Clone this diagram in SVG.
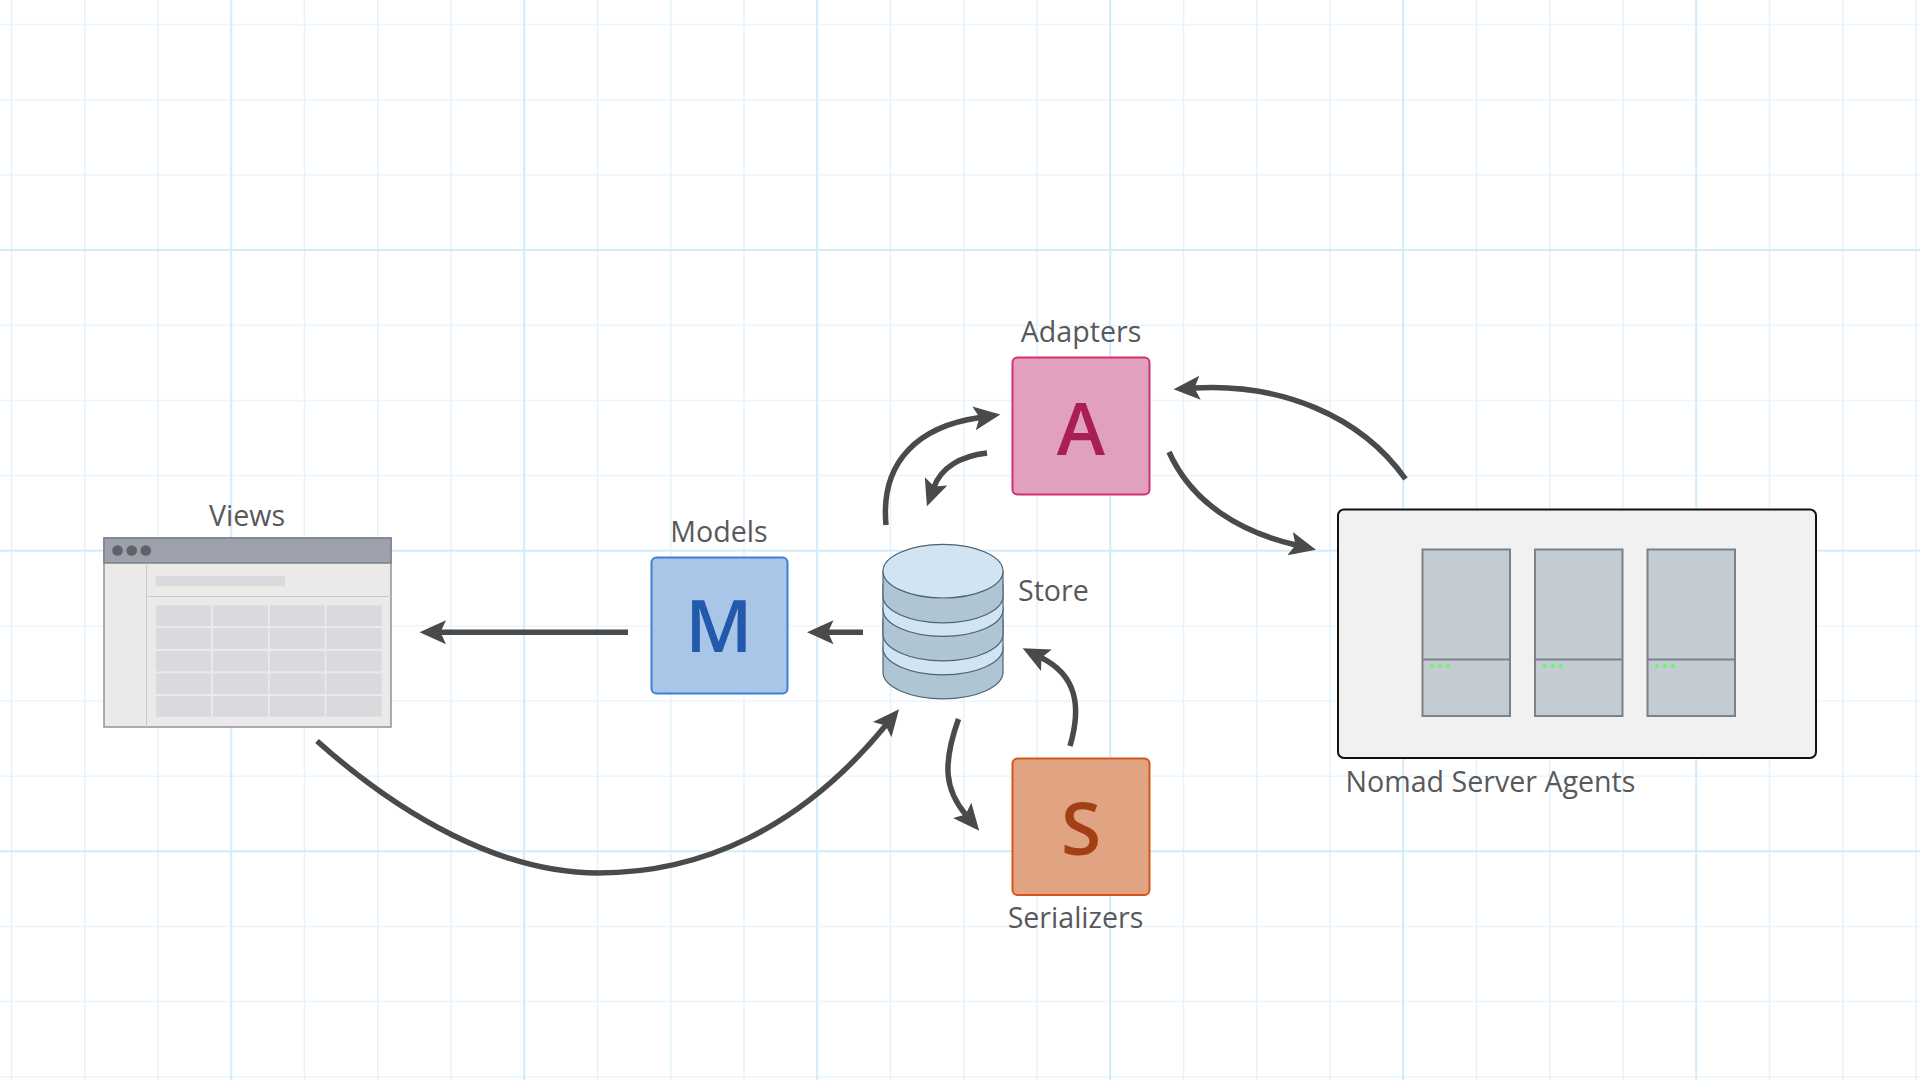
<svg xmlns="http://www.w3.org/2000/svg" width="1920" height="1080" viewBox="0 0 1920 1080">
<defs>
<style>
.gv{stroke:#E3F2FD;stroke-width:1.5;fill:none}
.gh{stroke:#EAF6FE;stroke-width:1.5;fill:none}
.gm{stroke:#D3ECFB;stroke-width:2;fill:none}
.lbl{font-family:"Open Sans","Noto Sans",sans-serif;font-size:28.600px;fill:#58595b;font-weight:500}
.ltr{font-family:"Open Sans","Noto Sans",sans-serif;font-size:73px;font-weight:600;text-anchor:middle}
.tile{stroke-width:2}
.c{fill:none;stroke:#4a4a4a;stroke-width:5.500}
.cell{fill:#D8DADD}
.srv{fill:#C4CCD3;stroke:#7B8288;stroke-width:2}
.led{fill:#5CFF5C}
.dk{fill:#AFC5D3;stroke:#4A6478;stroke-width:1.200}
.lt{fill:#D2E3F1;stroke:#4A6478;stroke-width:1.200}
</style>
<marker id="h" markerUnits="userSpaceOnUse" markerWidth="30" markerHeight="26" viewBox="0 -13 30 26" refX="6" refY="0" orient="auto"><path d="M26.500 0L0-12 5.500 0 0 12z" fill="#4a4a4a"/></marker>
</defs>
<rect width="1920" height="1080" fill="#fff"/>
<g id="grid">
<path class="gh" d="M0 24.600H1920M0 99.800H1920M0 175H1920M0 325.300H1920M0 400.500H1920M0 475.600H1920M0 625.900H1920M0 701H1920M0 776.200H1920M0 926.500H1920M0 1001.600H1920M0 1076.800H1920"/>
<path class="gv" d="M11.500 0V1080M84.700 0V1080M158 0V1080M304.500 0V1080M377.700 0V1080M451 0V1080M597.500 0V1080M670.700 0V1080M744 0V1080M890.500 0V1080M963.700 0V1080M1037 0V1080M1183.500 0V1080M1256.700 0V1080M1330 0V1080M1476.500 0V1080M1549.700 0V1080M1623 0V1080M1769.500 0V1080M1842.700 0V1080M1916 0V1080"/>
<path class="gm" d="M0 250.100H1920M0 550.700H1920M0 851.300H1920M231.200 0V1080M524.200 0V1080M817.200 0V1080M1110.200 0V1080M1403.200 0V1080M1696.200 0V1080"/>
</g>
<g id="connectors">
<path class="c" marker-end="url(#h)" d="M628 632.300H440"/>
<path class="c" marker-end="url(#h)" d="M863 632.300H827.500"/>
<path class="c" marker-end="url(#h)" d="M886 525C880 460 920 426 980 417.500"/>
<path class="c" marker-end="url(#h)" d="M987 453C960 456 941 468 934 487"/>
<path class="c" marker-end="url(#h)" d="M1405.500 479C1360 415 1280 383 1194 388"/>
<path class="c" marker-end="url(#h)" d="M1169 452C1192 503 1240 532 1296 545"/>
<path class="c" marker-end="url(#h)" d="M317 741C400 815 500 873 598 873C700 873 800 830 886 725"/>
<path class="c" marker-end="url(#h)" d="M958.500 719C942 765 945 790 966 815"/>
<path class="c" marker-end="url(#h)" d="M1070 746C1082 705 1076 675 1041 657.500"/>
</g>
<g id="views">
<text class="lbl" x="247" y="525.500" text-anchor="middle">Views</text>
<rect x="104" y="538" width="287" height="189" fill="#EBEAE8" stroke="#8F93A0" stroke-width="1.500"/>
<rect x="104" y="538" width="287" height="25" fill="#9DA1AC" stroke="#7C808B" stroke-width="1.500"/>
<circle cx="117.500" cy="550.500" r="5.300" fill="#5F6269"/><circle cx="131.700" cy="550.500" r="5.300" fill="#5F6269"/><circle cx="145.800" cy="550.500" r="5.300" fill="#5F6269"/>
<path d="M146.500 563V727M146.500 596.500H391" stroke="#C6C9D2" stroke-width="1" fill="none"/>
<rect x="155.700" y="576" width="129.300" height="10.300" fill="#D8DADD"/>
<g id="views-table">
<rect class="cell" x="156" y="605.300" width="55" height="20.700"/><rect class="cell" x="213" y="605.300" width="55" height="20.700"/><rect class="cell" x="269.700" y="605.300" width="55" height="20.700"/><rect class="cell" x="326.300" y="605.300" width="55.400" height="20.700"/>
<rect class="cell" x="156" y="628" width="55" height="20.700"/><rect class="cell" x="213" y="628" width="55" height="20.700"/><rect class="cell" x="269.700" y="628" width="55" height="20.700"/><rect class="cell" x="326.300" y="628" width="55.400" height="20.700"/>
<rect class="cell" x="156" y="651" width="55" height="20.400"/><rect class="cell" x="213" y="651" width="55" height="20.400"/><rect class="cell" x="269.700" y="651" width="55" height="20.400"/><rect class="cell" x="326.300" y="651" width="55.400" height="20.400"/>
<rect class="cell" x="156" y="673.300" width="55" height="20.700"/><rect class="cell" x="213" y="673.300" width="55" height="20.700"/><rect class="cell" x="269.700" y="673.300" width="55" height="20.700"/><rect class="cell" x="326.300" y="673.300" width="55.400" height="20.700"/>
<rect class="cell" x="156" y="696" width="55" height="20.700"/><rect class="cell" x="213" y="696" width="55" height="20.700"/><rect class="cell" x="269.700" y="696" width="55" height="20.700"/><rect class="cell" x="326.300" y="696" width="55.400" height="20.700"/>
</g>
</g>
<g id="models">
<text class="lbl" x="719" y="541.500" text-anchor="middle">Models</text>
<rect class="tile" x="651.500" y="557.500" width="136" height="136" rx="5" fill="#A9C5E8" stroke="#3F7FD6"/>
<text class="ltr" x="719" y="651.500" fill="#2259AC">M</text>
</g>
<g id="store">
<path class="dk" d="M883 672V646a60 26.800 0 0 0 120 0V672a60 26.800 0 0 1-120 0z"/>
<path class="lt" d="M883 648a60 26.800 0 0 0 120 0V620H883z"/>
<path class="dk" d="M883 634V608h120V634a60 26.800 0 0 1-120 0z"/>
<path class="lt" d="M883 609.500a60 26.800 0 0 0 120 0V585H883z"/>
<path class="dk" d="M883 571.200V596a60 26.800 0 0 0 120 0V571.200z"/>
<ellipse class="lt" cx="943" cy="571.200" rx="60" ry="26.800"/>
<text class="lbl" x="1018" y="601">Store</text>
</g>
<g id="adapters">
<text class="lbl" x="1081" y="341.500" text-anchor="middle">Adapters</text>
<rect class="tile" x="1012.500" y="357.500" width="137" height="137" rx="5" fill="#E0A0BE" stroke="#CF3071"/>
<text class="ltr" x="1081" y="455" fill="#A81F56">A</text>
</g>
<g id="serializers">
<rect class="tile" x="1012.500" y="758.500" width="137" height="136.500" rx="5" fill="#E0A482" stroke="#D4561D"/>
<text class="ltr" x="1081" y="855" fill="#A33F14">S</text>
<text class="lbl" x="1075.500" y="927.500" text-anchor="middle">Serializers</text>
</g>
<g id="nomad">
<rect x="1338" y="509.500" width="478" height="248.500" rx="6" fill="#F1F1F1" stroke="#111" stroke-width="2"/>
<rect class="srv" x="1422.500" y="549.500" width="87.500" height="166.500"/><path class="srv" d="M1422.500 659.500H1510"/>
<circle class="led" cx="1432" cy="666" r="2"/><circle class="led" cx="1440" cy="666" r="2"/><circle class="led" cx="1448" cy="666" r="2"/>
<rect class="srv" x="1535" y="549.500" width="87.500" height="166.500"/><path class="srv" d="M1535 659.500H1622.500"/>
<circle class="led" cx="1544.500" cy="666" r="2"/><circle class="led" cx="1552.500" cy="666" r="2"/><circle class="led" cx="1560.500" cy="666" r="2"/>
<rect class="srv" x="1647.500" y="549.500" width="87.500" height="166.500"/><path class="srv" d="M1647.500 659.500H1735"/>
<circle class="led" cx="1657" cy="666" r="2"/><circle class="led" cx="1665" cy="666" r="2"/><circle class="led" cx="1673" cy="666" r="2"/>
<text class="lbl" x="1345.500" y="791.500">Nomad Server Agents</text>
</g>
</svg>
